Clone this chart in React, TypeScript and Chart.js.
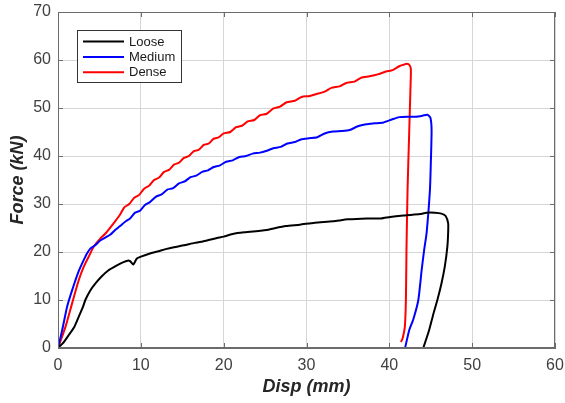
import React, { useEffect, useRef } from "react";
import { Chart, registerables } from "chart.js";

Chart.register(...registerables);

const seriesNames = ["Loose", "Medium", "Dense"];
const seriesColors = ["#000000", "#0000ff", "#ff0000"];

const xTicks = [0, 10, 20, 30, 40, 50, 60];
const yTicks = [0, 10, 20, 30, 40, 50, 60, 70];

// Loose (x = disp mm, y = force kN)
const looseX = [0, 0.6, 1.3, 2, 2.5, 3, 3.3, 3.9, 4.5, 5.2, 6.1, 7, 7.9, 8.4, 8.7, 9.1, 9.5, 10.1, 11.1, 12, 13, 14, 15.2, 16.5, 17.5, 19.2, 20, 21.2, 22.5, 23.2, 25.2, 26, 27.5, 29.2, 31, 33.2, 35, 37.3, 39, 40.1, 41.7, 42.5, 43.7, 44.5, 45.5, 46.3, 46.8, 47.1, 47.1, 47, 46.7, 46.3, 45.8, 45.3, 44.8, 44.1];
const looseY = [0, 1, 2.7, 4.5, 6.5, 8.5, 10, 12, 13.4, 14.8, 16.2, 17.1, 17.9, 18.2, 18.1, 17.4, 18.6, 19.1, 19.7, 20.1, 20.6, 21, 21.4, 21.9, 22.2, 22.9, 23.2, 23.8, 24.1, 24.2, 24.6, 24.9, 25.4, 25.7, 26.1, 26.4, 26.8, 27, 27, 27.3, 27.6, 27.7, 27.9, 28.2, 28.2, 28, 27.5, 26, 24, 21, 17, 13.5, 10, 7, 3.7, 0];

// Medium
const mediumX = [0, 0.5, 1.1, 1.7, 2.5, 3.1, 3.5, 3.9, 4.5, 5.1, 5.7, 6.3, 6.9, 7.5, 8.1, 8.7, 9.3, 9.9, 10.5, 11.1, 11.8, 12.5, 13.2, 13.9, 14.6, 15.3, 16, 16.7, 17.4, 18.1, 18.8, 19.5, 20.3, 21.1, 21.9, 22.7, 23.5, 24.4, 25.2, 26, 26.9, 27.7, 28.6, 29.4, 30.3, 31.3, 32.2, 33.2, 34.2, 35.2, 36.2, 37.2, 38.2, 39.3, 40.3, 41.2, 42.2, 43.2, 44, 44.6, 44.95, 45.1, 45, 44.9, 44.5, 44.2, 43.9, 43.5, 42.9, 42.4, 41.9];
const mediumY = [0, 3.7, 8.6, 12, 16, 18.3, 19.7, 20.7, 21.4, 22.4, 23, 23.6, 24.6, 25.4, 26.3, 27, 28.2, 28.6, 29.8, 30.4, 31.5, 32, 33, 33.3, 34.3, 34.7, 35.6, 35.9, 36.7, 37, 37.7, 38, 38.8, 39.1, 39.8, 40, 40.5, 40.7, 41.1, 41.6, 41.9, 42.6, 42.9, 43.5, 43.7, 43.9, 44.7, 45.1, 45.2, 45.4, 46.2, 46.6, 46.8, 47, 47.6, 48.1, 48.2, 48.2, 48.4, 48.6, 48, 45.4, 38, 32.9, 24, 20.4, 16.2, 10, 6, 3.7, 0];

// Dense
const denseX = [0, 0.9, 1.7, 2.5, 3.1, 3.7, 4.3, 5.1, 5.7, 6.9, 7.5, 8, 8.6, 9.2, 9.8, 10.4, 11, 11.6, 12.2, 12.8, 13.4, 14, 14.6, 15.2, 15.8, 16.4, 17, 17.6, 18.2, 18.8, 19.4, 20, 20.8, 21.5, 22.2, 22.9, 23.7, 24.4, 25.2, 26, 26.8, 27.6, 28.6, 29.4, 30.4, 31.2, 32.2, 33, 34, 34.8, 35.8, 36.6, 37.6, 38.6, 39.6, 40.4, 41.2, 41.7, 42.1, 42.45, 42.6, 42.55, 42.4, 42.2, 42.07, 42, 41.87, 41.6, 41.4];
const denseY = [0, 4.4, 9.3, 14.1, 16.9, 19, 21.1, 22.8, 23.8, 26.4, 27.8, 29.3, 30, 31.3, 31.9, 33.2, 33.8, 35, 35.5, 36.7, 37.1, 38.2, 38.6, 39.6, 40, 41, 41.3, 42.3, 42.6, 43.6, 43.9, 44.7, 45, 46, 46.3, 47.2, 47.5, 48.5, 48.8, 49.9, 50.3, 51.2, 51.5, 52.3, 52.5, 52.9, 53.4, 54.2, 54.5, 55.2, 55.5, 56.3, 56.6, 57, 57.6, 57.9, 58.7, 59, 59.2, 58.9, 58, 54, 45, 33, 20.4, 10, 4.4, 2, 1.25];

const pts = (xs: number[], ys: number[]) => xs.map((x, i) => ({ x, y: ys[i] }));

const FONT = "'Liberation Sans', Arial, Helvetica, sans-serif";

const frameAndLegend = {
  id: "frameAndLegend",
  afterDatasetsDraw(chart: any) {
    const { ctx, chartArea } = chart;
    const xs = chart.scales.x;
    const ys = chart.scales.y;
    ctx.save();
    // frame
    ctx.strokeStyle = "#6b6b6b";
    ctx.lineWidth = 1;
    ctx.strokeRect(chartArea.left + 0.5, chartArea.top + 0.5, chartArea.right - chartArea.left - 1, chartArea.bottom - chartArea.top - 1);
    // inner ticks
    ctx.beginPath();
    const tl = 5;
    xTicks.forEach((v) => {
      const px = Math.round(xs.getPixelForValue(v)) + 0.5;
      ctx.moveTo(px, chartArea.bottom);
      ctx.lineTo(px, chartArea.bottom - tl);
      ctx.moveTo(px, chartArea.top);
      ctx.lineTo(px, chartArea.top + tl);
    });
    yTicks.forEach((v) => {
      const py = Math.round(ys.getPixelForValue(v)) + 0.5;
      ctx.moveTo(chartArea.left, py);
      ctx.lineTo(chartArea.left + tl, py);
      ctx.moveTo(chartArea.right, py);
      ctx.lineTo(chartArea.right - tl, py);
    });
    ctx.stroke();

    // legend
    const bx = 77.5, by = 30.5, bw = 104, bh = 52;
    ctx.fillStyle = "#ffffff";
    ctx.fillRect(bx, by, bw, bh);
    ctx.strokeStyle = "#333333";
    ctx.lineWidth = 1;
    ctx.strokeRect(bx, by, bw, bh);
    ctx.font = `13px ${FONT}`;
    ctx.textBaseline = "middle";
    ctx.textAlign = "left";
    chart.data.datasets.forEach((ds: any, i: number) => {
      const ly = 41.5 + i * 15.4;
      ctx.strokeStyle = ds.borderColor;
      ctx.lineWidth = 2;
      ctx.beginPath();
      ctx.moveTo(83, ly);
      ctx.lineTo(124, ly);
      ctx.stroke();
      ctx.fillStyle = "#1a1a1a";
      ctx.fillText(ds.label, 129, ly + 0.5);
    });
    ctx.restore();
  },
};

export default function App() {
  const ref = useRef<HTMLCanvasElement | null>(null);
  useEffect(() => {
    document.body.style.margin = "0";
    const canvas = ref.current;
    if (!canvas) return;
    const datasets = [pts(looseX, looseY), pts(mediumX, mediumY), pts(denseX, denseY)].map((d, i) => ({
      label: seriesNames[i],
      data: d,
      borderColor: seriesColors[i],
      backgroundColor: seriesColors[i],
      borderWidth: 2,
      pointRadius: 0,
      showLine: true,
      tension: 0.2,
      fill: false,
    }));
    const chart = new Chart(canvas, {
      type: "scatter",
      data: { datasets },
      plugins: [frameAndLegend],
      options: {
        animation: false,
        responsive: false,
        devicePixelRatio: 1,
        layout: { padding: { top: 12, right: 10, left: 0, bottom: 0 } },
        plugins: { legend: { display: false }, tooltip: { enabled: false } },
        scales: {
          x: {
            type: "linear",
            min: 0,
            max: 60,
            afterBuildTicks: (s: any) => { s.ticks = xTicks.map((v) => ({ value: v })); },
            afterFit: (s: any) => { s.height = 55; s.paddingLeft = 0; s.paddingRight = 0; },
            ticks: { font: { family: FONT, size: 16 }, color: "#404040", padding: 8 },
            grid: { color: "#d6d6d6", lineWidth: 1, drawTicks: false },
            border: { display: true, color: "#6b6b6b" },
            title: {
              display: true,
              text: "Disp (mm)",
              font: { family: FONT, size: 18, weight: "bold", style: "italic" },
              color: "#262626",
              padding: { top: 0, bottom: 5.5 },
            },
          },
          y: {
            type: "linear",
            min: 0,
            max: 70,
            afterBuildTicks: (s: any) => { s.ticks = yTicks.map((v) => ({ value: v })); },
            afterFit: (s: any) => { s.width = 58; s.paddingTop = 0; s.paddingBottom = 0; },
            ticks: { font: { family: FONT, size: 16 }, color: "#404040", padding: 7 },
            grid: { color: "#d6d6d6", lineWidth: 1, drawTicks: false },
            border: { display: true, color: "#6b6b6b" },
            title: {
              display: true,
              text: "Force (kN)",
              font: { family: FONT, size: 18, weight: "bold", style: "italic" },
              color: "#262626",
              padding: { top: 7.5, bottom: 0 },
            },
          },
        },
      },
    } as any);
    return () => chart.destroy();
  }, []);
  return (
    <div style={{ position: "absolute", left: 0, top: 0, width: 565, height: 403, background: "#fff" }}>
      <canvas ref={ref} width={565} height={403} style={{ width: 565, height: 403, display: "block" }} />
    </div>
  );
}
